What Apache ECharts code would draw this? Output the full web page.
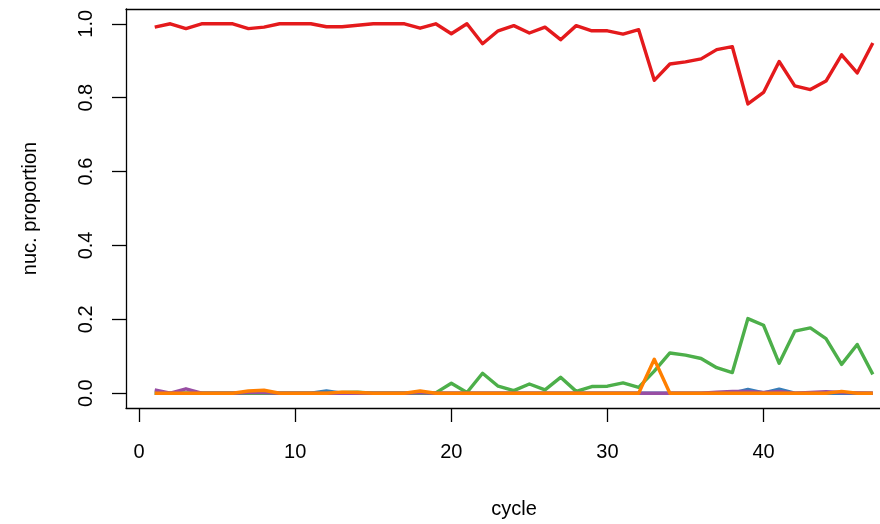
<!DOCTYPE html>
<html>
<head>
<meta charset="utf-8">
<script src="https://cdn.jsdelivr.net/npm/echarts@6/dist/echarts.min.js"></script>
<style>
  html, body { margin: 0; padding: 0; background: #fff; }
  #chart { width: 880px; height: 524px; }
</style>
</head>
<body>
<div id="chart"></div>
<script>
(function() {
  var cycles = [1, 2, 3, 4, 5, 6, 7, 8, 9, 10, 11, 12, 13, 14, 15, 16, 17, 18, 19, 20,
    21, 22, 23, 24, 25, 26, 27, 28, 29, 30, 31, 32, 33, 34, 35, 36, 37, 38, 39, 40,
    41, 42, 43, 44, 45, 46, 47];

  var red = [0.991, 1.0, 0.987, 1.0, 1.0, 1.0, 0.987, 0.991, 1.0, 1.0,
    1.0, 0.992, 0.992, 0.996, 1.0, 1.0, 1.0, 0.988, 1.0, 0.973,
    1.0, 0.946, 0.981, 0.995, 0.975, 0.991, 0.957, 0.995, 0.981, 0.981,
    0.972, 0.984, 0.847, 0.891, 0.897, 0.905, 0.930, 0.938, 0.783, 0.814,
    0.898, 0.832, 0.822, 0.845, 0.916, 0.867, 0.948];
  var blue = [0, 0, 0, 0, 0, 0, 0, 0, 0, 0,
    0, 0.006, 0, 0, 0, 0, 0, 0, 0, 0,
    0, 0, 0, 0, 0, 0, 0, 0, 0, 0,
    0, 0, 0, 0, 0, 0, 0, 0, 0.010, 0.001,
    0.011, 0, 0, 0, 0, 0, 0];
  var green = [0, 0, 0, 0, 0, 0, 0, 0, 0, 0,
    0, 0, 0.002, 0.003, 0, 0, 0, 0, 0.001, 0.027,
    0.002, 0.054, 0.019, 0.007, 0.025, 0.009, 0.043, 0.005, 0.018, 0.019,
    0.028, 0.016, 0.060, 0.109, 0.103, 0.094, 0.069, 0.056, 0.202, 0.184,
    0.081, 0.168, 0.177, 0.148, 0.078, 0.132, 0.051];
  var purple = [0.009, 0, 0.012, 0, 0, 0, 0.002, 0.002, 0, 0,
    0, 0, 0, 0, 0, 0, 0, 0.002, 0, 0,
    0, 0, 0, 0, 0, 0, 0, 0, 0, 0,
    0, 0, 0, 0, 0, 0, 0.003, 0.005, 0.005, 0.002,
    0.005, 0, 0.002, 0.004, 0.002, 0.001, 0];
  var orange = [0, 0, 0, 0, 0, 0, 0.006, 0.008, 0, 0,
    0, 0, 0.003, 0.002, 0, 0, 0, 0.006, 0, 0,
    0, 0, 0, 0, 0, 0, 0, 0, 0, 0,
    0, 0, 0.092, 0, 0, 0, 0, 0, 0, 0,
    0, 0, 0, 0, 0.005, 0, 0];

  var xTicks = [0, 10, 20, 30, 40];
  var yTicks = [0, 0.2, 0.4, 0.6, 0.8, 1.0];

  var font = '"Liberation Sans", Arial, Helvetica, sans-serif';
  var axisPen = { color: '#000', width: 1.3 };

  function pairs(vals) {
    return cycles.map(function(c, i) { return [c, vals[i]]; });
  }
  function line(name, vals, color) {
    return {
      name: name,
      type: 'line',
      data: pairs(vals),
      showSymbol: false,
      symbol: 'none',
      lineStyle: { color: color, width: 3.4, join: 'round' },
      itemStyle: { color: color }
    };
  }

  // plot box runs past the right edge of the picture, so no right border is drawn
  var chart = echarts.init(document.getElementById('chart'), null, { renderer: 'canvas' });
  chart.setOption({
    animation: false,
    backgroundColor: '#fff',
    grid: { left: 126, top: 9, right: 0, bottom: 116 },
    xAxis: [{
      type: 'value',
      min: -0.84, max: 47.46,
      name: 'cycle',
      nameLocation: 'middle',
      nameGap: 91,
      nameTextStyle: { color: '#000', fontSize: 20, fontFamily: font, padding: [0, 0, 0, 22] },
      axisLine: { show: true, onZero: false, lineStyle: axisPen },
      axisTick: { show: true, length: 14, customValues: xTicks, lineStyle: axisPen },
      axisLabel: { customValues: xTicks, color: '#000', fontSize: 20, fontFamily: font, margin: 34 },
      splitLine: { show: false }
    }, {
      type: 'value',
      position: 'top',
      min: -0.84, max: 47.46,
      axisLine: { show: true, onZero: false, lineStyle: axisPen },
      axisTick: { show: false },
      axisLabel: { show: false },
      splitLine: { show: false }
    }],
    yAxis: {
      type: 'value',
      min: -0.04, max: 1.04,
      name: 'nuc. proportion',
      nameLocation: 'middle',
      nameGap: 86,
      nameTextStyle: { color: '#000', fontSize: 20, fontFamily: font },
      axisLine: { show: true, onZero: false, lineStyle: axisPen },
      axisTick: { show: true, length: 14, customValues: yTicks, lineStyle: axisPen },
      axisLabel: {
        customValues: yTicks, rotate: 90, color: '#000', fontSize: 20, fontFamily: font, margin: 30,
        formatter: function(v) { return v.toFixed(1); }
      },
      splitLine: { show: false }
    },
    series: [
      line('T', red, '#E41A1C'),
      line('C', blue, '#377EB8'),
      line('G', green, '#4DAF4A'),
      line('N', purple, '#984EA3'),
      line('A', orange, '#FF7F00')
    ]
  });
  window.addEventListener('resize', function() { chart.resize(); });
})();
</script>
</body>
</html>
